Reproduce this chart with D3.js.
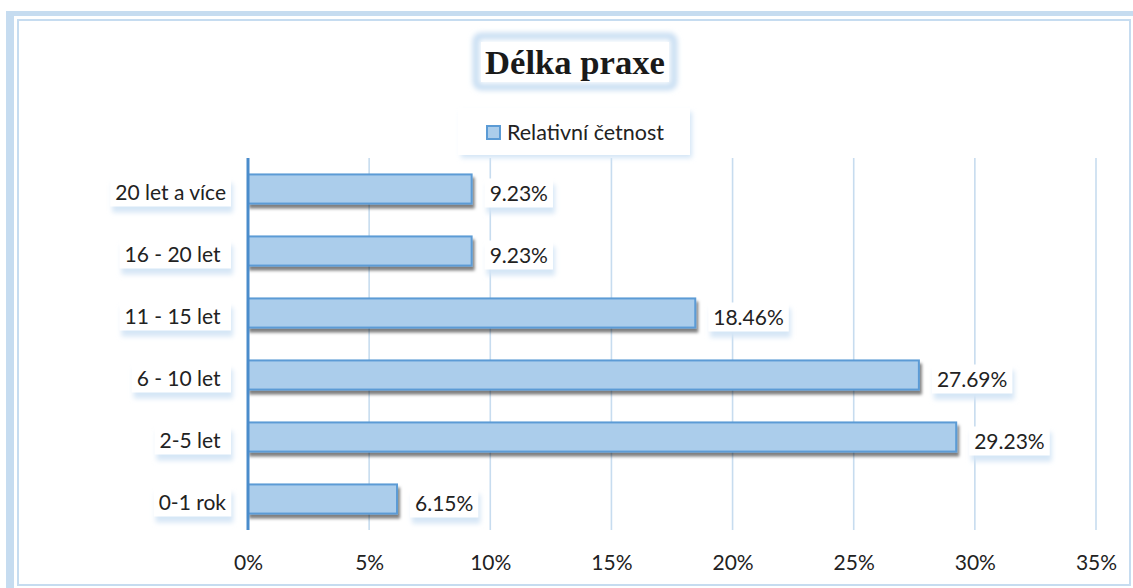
<!DOCTYPE html>
<html><head><meta charset="utf-8">
<script src="https://cdn.jsdelivr.net/npm/d3@7"></script>
<style>body{margin:0;background:#fff}svg{display:block}text{white-space:pre}</style>
</head><body>
<svg id="c" width="1133" height="588"></svg>
<script>
const categories = ["20 let a více","16 - 20 let ","11 - 15 let ","6 - 10 let ","2-5 let ","0-1 rok"];
const values = [9.23, 9.23, 18.46, 27.69, 29.23, 6.15];
const xTicks = [0,5,10,15,20,25,30,35];
const titleText = "Délka praxe";
const legendText = "Relativní četnost";

const svg = d3.select("#c");
const defs = svg.append("defs");
const sh = defs.append("filter").attr("id","barShadow").attr("x","-10%").attr("y","-50%").attr("width","130%").attr("height","250%");
sh.append("feDropShadow").attr("dx",2).attr("dy",4).attr("stdDeviation",1.8).attr("flood-color","#000").attr("flood-opacity",0.5);
const blur = defs.append("filter").attr("id","blueBlur").attr("x","-20%").attr("y","-50%").attr("width","140%").attr("height","200%");
blur.append("feGaussianBlur").attr("stdDeviation",2.5);

const font = "Lato, 'Open Sans', sans-serif";
const frameBlue = "#c6dcf0";

// frame
svg.append("rect").attr("x",6).attr("y",11).attr("width",1127).attr("height",5).attr("fill",frameBlue);
svg.append("rect").attr("x",6).attr("y",11).attr("width",8).attr("height",577).attr("fill",frameBlue);
svg.append("rect").attr("x",18).attr("y",20).attr("width",1112).attr("height",565)
  .attr("fill","none").attr("stroke",frameBlue).attr("stroke-width",2);

const x = d3.scaleLinear().domain([0,35]).range([248,1096]);
const y = d3.scaleBand().domain(categories).range([158,530]).paddingInner(0.53).paddingOuter(0.265);

// gridlines
svg.append("g").selectAll("line").data(xTicks.filter(d=>d>0)).join("line")
  .attr("x1",d=>x(d)).attr("x2",d=>x(d)).attr("y1",158).attr("y2",530)
  .attr("stroke","#c7dcef").attr("stroke-width",1.6);

// x axis labels
const xAxis = d3.axisBottom(x).tickValues(xTicks).tickFormat(d=>d+"%").tickSize(0).tickPadding(0);
const gx = svg.append("g").attr("transform","translate(0,555)").call(xAxis);
gx.select(".domain").remove();
gx.selectAll("text").attr("font-family",font).attr("font-size",21).attr("fill","#222").attr("dy","0.71em");

// bars
svg.append("g").selectAll("rect").data(categories).join("rect")
  .attr("x",x(0)).attr("y",d=>y(d)).attr("height",y.bandwidth())
  .attr("width",(d,i)=>x(values[i])-x(0))
  .attr("fill","#abcdeb").attr("stroke","#5b9bd5").attr("stroke-width",2)
  .attr("filter","url(#barShadow)");

// y axis line
svg.append("line").attr("x1",x(0)).attr("x2",x(0)).attr("y1",158).attr("y2",530)
  .attr("stroke","#4a8ccb").attr("stroke-width",3);

// label helper
function labelBox(g, tx, ty, anchor, text, size){
  const t = g.append("text").attr("x",tx).attr("y",ty).attr("text-anchor",anchor)
    .attr("dominant-baseline","central").attr("font-family",font).attr("font-size",size).attr("fill","#222").text(text);
  const bb = t.node().getBBox();
  const padX = 5, padY = 1;
  const bx = bb.x-padX, by = bb.y-padY, bw = bb.width+2*padX, bh = bb.height+2*padY+2;
  g.insert("rect","text").attr("x",bx+2).attr("y",by+6).attr("width",bw).attr("height",bh)
    .attr("fill","#d5e6f6").attr("filter","url(#blueBlur)");
  g.insert("rect","text").attr("x",bx).attr("y",by).attr("width",bw).attr("height",bh).attr("fill","#fff");
}

// category labels
categories.forEach((c,i)=>{
  labelBox(svg.append("g"), 226, y(c)+y.bandwidth()/2+2, "end", c, 21);
});
// value labels
categories.forEach((c,i)=>{
  labelBox(svg.append("g"), x(values[i])+18, y(c)+y.bandwidth()/2+3, "start", values[i].toFixed(2)+"%", 21);
});

// title
const tg = svg.append("g");
tg.append("rect").attr("x",476).attr("y",36).attr("width",198).attr("height",51).attr("rx",5)
  .attr("fill","none").attr("stroke","#cadff3").attr("stroke-width",7).attr("filter","url(#blueBlur)");
tg.append("rect").attr("x",481).attr("y",42).attr("width",188).attr("height",40).attr("fill","#fff");
tg.append("text").attr("x",575).attr("y",74).attr("text-anchor","middle")
  .attr("font-family","'Liberation Serif','Times New Roman',serif").attr("font-weight","bold")
  .attr("font-size",33).attr("textLength",180).attr("lengthAdjust","spacingAndGlyphs")
  .attr("fill","#1a1a1a").text(titleText);

// legend
const lg = svg.append("g");
lg.append("rect").attr("x",461).attr("y",112).attr("width",231).attr("height",46)
  .attr("fill","#d3e5f6").attr("filter","url(#blueBlur)");
lg.append("rect").attr("x",458).attr("y",108).attr("width",232).attr("height",47).attr("fill","#fff");
lg.append("rect").attr("x",487).attr("y",126).attr("width",13).attr("height",13)
  .attr("fill","#abcdeb").attr("stroke","#5b9bd5").attr("stroke-width",2);
lg.append("text").attr("x",507).attr("y",140).attr("font-family",font).attr("font-size",21.5)
  .attr("fill","#222").text(legendText);
</script>
</body></html>
